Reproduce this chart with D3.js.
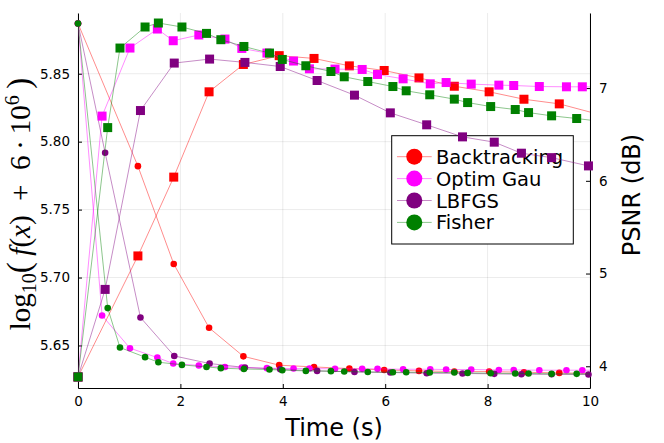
<!DOCTYPE html>
<html>
<head>
<meta charset="utf-8">
<script src="https://cdn.jsdelivr.net/npm/d3@7/dist/d3.min.js"></script>
<style>
body { margin: 0; background: #fff; }
svg { display: block; font-family: "DejaVu Sans", sans-serif; }
</style>
</head>
<body>
<script>
// objective (circles, left axis) and PSNR (squares, right axis) per method

const backtrackingTime = [0, 1.17, 1.87, 2.56, 3.23, 3.93, 4.61, 5.30, 5.98, 6.66, 7.35, 8.03, 8.71, 9.40, 10.08];
const backtrackingObj = [5.887, 5.782, 5.710, 5.663, 5.642, 5.6355, 5.6342, 5.6330, 5.6320, 5.6313, 5.6308, 5.6308, 5.6303, 5.6298, 5.6295];
const backtrackingPsnr = [3.885, 5.19, 6.04, 6.96, 7.255, 7.35, 7.32, 7.24, 7.19, 7.11, 7.02, 6.96, 6.88, 6.83, 6.73];

const optimTime = [0, 0.47, 1.015, 1.55, 1.86, 2.36, 2.87, 3.20, 3.69, 4.21, 4.52, 5.02, 5.55, 5.85, 6.35, 6.88, 7.19, 7.68, 8.22, 8.51, 9.01, 9.54, 9.85, 10.36];
const optimObj = [5.887, 5.6721, 5.6480, 5.6411, 5.6367, 5.6353, 5.6342, 5.6338, 5.6333, 5.6330, 5.6330, 5.6328, 5.6328, 5.6328, 5.6325, 5.6325, 5.6323, 5.6323, 5.6320, 5.6320, 5.6318, 5.6318, 5.6318, 5.6317];
const optimPsnr = [3.885, 6.698, 7.432, 7.637, 7.511, 7.573, 7.529, 7.428, 7.378, 7.292, 7.208, 7.205, 7.201, 7.147, 7.100, 7.046, 7.060, 7.043, 7.032, 7.028, 7.017, 7.014, 7.014, 7.012];

const lbfgsTime = [0, 0.53, 1.22, 1.88, 2.57, 3.26, 3.95, 4.67, 5.40, 6.10, 6.81, 7.51, 8.13, 8.66, 9.25, 9.97, 10.67];
const lbfgsObj = [5.887, 5.7918, 5.6706, 5.6423, 5.6367, 5.6338, 5.6325, 5.6313, 5.6305, 5.6301, 5.6296, 5.6294, 5.6291, 5.6288, 5.6288, 5.6286, 5.6285];
const lbfgsPsnr = [3.885, 4.829, 6.758, 7.270, 7.313, 7.277, 7.233, 7.082, 6.924, 6.733, 6.604, 6.474, 6.417, 6.298, 6.250, 6.161, 6.08];

const fisherTime = [0, 0.58, 0.82, 1.31, 1.57, 2.03, 2.51, 2.79, 3.24, 3.74, 3.99, 4.45, 4.94, 5.20, 5.66, 6.15, 6.41, 6.87, 7.35, 7.61, 8.06, 8.54, 8.80, 9.25, 9.74, 10.22];
const fisherObj = [5.887, 5.6775, 5.6485, 5.6414, 5.6377, 5.6357, 5.6342, 5.6333, 5.6327, 5.6323, 5.6318, 5.6313, 5.6311, 5.6308, 5.6305, 5.6303, 5.6303, 5.6301, 5.6301, 5.6298, 5.6296, 5.6294, 5.6294, 5.6291, 5.6291, 5.6290];
const fisherPsnr = [3.885, 6.574, 7.432, 7.659, 7.702, 7.659, 7.590, 7.522, 7.449, 7.378, 7.309, 7.241, 7.179, 7.122, 7.071, 7.017, 6.971, 6.928, 6.881, 6.844, 6.801, 6.769, 6.736, 6.701, 6.672, 6.64];

const seriesNames = ["Backtracking", "Optim Gau", "LBFGS", "Fisher"];
const seriesColors = ["#ff0000", "#ff00ff", "#800080", "#008000"];

const xTicks = [0, 2, 4, 6, 8, 10];
const objTicks = [5.65, 5.70, 5.75, 5.80, 5.85];
const psnrTicks = [4, 5, 6, 7];

let margin = {top: 13, right: 74, bottom: 55, left: 78};
let width = 664 - margin.left - margin.right;
let height = 443 - margin.top - margin.bottom;

let series = [
	[backtrackingTime, backtrackingObj, backtrackingPsnr],
	[optimTime, optimObj, optimPsnr],
	[lbfgsTime, lbfgsObj, lbfgsPsnr],
	[fisherTime, fisherObj, fisherPsnr]
].map(function(s, i) {
	return {
		name: seriesNames[i],
		color: seriesColors[i],
		values: s[0].map(function(t, j) { return {t: t, obj: s[1][j], psnr: s[2][j]}; })
	};
});

let xScale = d3.scaleLinear().domain([0, 10]).range([0, width]);
let objScale = d3.scaleLinear().domain([5.6187, 5.8947]).range([height, 0]);
let psnrScale = d3.scaleLinear().domain([3.7656, 7.810]).range([height, 0]);

let svg = d3.select("body").append("svg")
	.attr("width", 664)
	.attr("height", 443);

svg.append("defs").append("clipPath")
		.attr("id", "plotclip")
	.append("rect")
		.attr("width", width)
		.attr("height", height);

let chart = svg.append("g")
	.attr("transform", "translate(" + margin.left + "," + margin.top + ")");

// grid
chart.append("g")
	.selectAll("line")
	.data(xTicks)
	.enter().append("line")
		.attr("x1", function(d) { return xScale(d); })
		.attr("x2", function(d) { return xScale(d); })
		.attr("y1", 0)
		.attr("y2", height)
		.attr("stroke", "#000")
		.attr("stroke-opacity", 0.1)
		.attr("stroke-width", 0.8);

chart.append("g")
	.selectAll("line")
	.data(objTicks)
	.enter().append("line")
		.attr("x1", 0)
		.attr("x2", width)
		.attr("y1", function(d) { return objScale(d); })
		.attr("y2", function(d) { return objScale(d); })
		.attr("stroke", "#000")
		.attr("stroke-opacity", 0.1)
		.attr("stroke-width", 0.8);

// axes
function styleAxis(g) {
	g.attr("font-family", "DejaVu Sans, sans-serif").attr("font-size", 13.5);
	g.selectAll("text").attr("fill", "#000");
	g.selectAll("line, path").attr("stroke", "#000");
}

chart.append("g")
	.call(d3.axisLeft(objScale)
		.tickValues(objTicks)
		.tickFormat(d3.format(".2f"))
		.tickSizeInner(-4)
		.tickSizeOuter(0)
		.tickPadding(8))
	.call(styleAxis);

chart.append("g")
	.attr("transform", "translate(0," + height + ")")
	.call(d3.axisBottom(xScale)
		.tickValues(xTicks)
		.tickFormat(d3.format("d"))
		.tickSizeInner(-4)
		.tickSizeOuter(0)
		.tickPadding(8))
	.call(styleAxis);

chart.append("g")
	.attr("transform", "translate(" + width + ",0)")
	.call(d3.axisRight(psnrScale)
		.tickValues(psnrTicks)
		.tickFormat(d3.format("d"))
		.tickSizeInner(-4)
		.tickSizeOuter(0)
		.tickPadding(9))
	.call(styleAxis);

let objLine = d3.line()
	.x(function(d) { return xScale(d.t); })
	.y(function(d) { return objScale(d.obj); });

let psnrLine = d3.line()
	.x(function(d) { return xScale(d.t); })
	.y(function(d) { return psnrScale(d.psnr); });

function inRange(d) { return d.t <= 10; }

// objective series (left axis)
series.forEach(function(s) {
	chart.append("path")
		.datum(s.values)
		.attr("clip-path", "url(#plotclip)")
		.attr("fill", "none")
		.attr("stroke", s.color)
		.attr("stroke-opacity", 0.45)
		.attr("stroke-width", 1)
		.attr("d", objLine);
	chart.append("g")
		.selectAll("circle")
		.data(s.values.filter(inRange))
		.enter().append("circle")
			.attr("r", 3.3)
			.attr("cx", function(d) { return xScale(d.t); })
			.attr("cy", function(d) { return objScale(d.obj); })
			.attr("fill", s.color);
});

// legend
let legend = chart.append("g")
	.attr("transform", "translate(313.7,122.7)");

legend.append("rect")
	.attr("width", 181.6)
	.attr("height", 108.3)
	.attr("fill", "#fff")
	.attr("stroke", "#000")
	.attr("stroke-width", 1);

let entries = legend.selectAll("g.entry")
	.data(series)
	.enter().append("g")
		.attr("class", "entry")
		.attr("transform", function(d, i) { return "translate(0," + (21 + i * 21.9) + ")"; });

entries.append("line")
	.attr("x1", 5.3)
	.attr("x2", 40)
	.attr("stroke", function(d) { return d.color; })
	.attr("stroke-opacity", 0.45)
	.attr("stroke-width", 1);

entries.append("circle")
	.attr("cx", 22.6)
	.attr("r", 8)
	.attr("fill", function(d) { return d.color; });

entries.append("text")
	.attr("x", 44.3)
	.attr("dy", "0.36em")
	.attr("font-size", 19.5)
	.attr("fill", "#000")
	.text(function(d) { return d.name; });

// PSNR series (right axis)
series.forEach(function(s) {
	chart.append("path")
		.datum(s.values)
		.attr("clip-path", "url(#plotclip)")
		.attr("fill", "none")
		.attr("stroke", s.color)
		.attr("stroke-opacity", 0.45)
		.attr("stroke-width", 1)
		.attr("d", psnrLine);
	chart.append("g")
		.selectAll("rect")
		.data(s.values.filter(inRange))
		.enter().append("rect")
			.attr("width", 9)
			.attr("height", 9)
			.attr("x", function(d) { return xScale(d.t) - 4.5; })
			.attr("y", function(d) { return psnrScale(d.psnr) - 4.5; })
			.attr("fill", s.color);
});

// axis titles
chart.append("text")
	.attr("x", width / 2)
	.attr("y", 423)
	.attr("text-anchor", "middle")
	.attr("font-size", 24)
	.attr("fill", "#000")
	.text("Time (s)");

svg.append("text")
	.attr("transform", "translate(631,195) rotate(-90)")
	.attr("text-anchor", "middle")
	.attr("dy", "0.36em")
	.attr("font-size", 24)
	.attr("fill", "#000")
	.text("PSNR (dB)");

let yLabel = svg.append("text")
	.attr("transform", "translate(30,204) rotate(-90)")
	.attr("text-anchor", "middle")
	.attr("font-family", "Liberation Serif, serif")
	.attr("font-size", 29)
	.attr("fill", "#000");

yLabel.append("tspan").text("log");
yLabel.append("tspan").attr("dy", 6).attr("font-size", 20).text("10");
yLabel.append("tspan").attr("dy", -6).attr("font-size", 33).text("(\u2009");
yLabel.append("tspan").attr("font-style", "italic").text("f");
yLabel.append("tspan").text("(");
yLabel.append("tspan").attr("font-style", "italic").text("x");
yLabel.append("tspan").text(")\u2002+\u20026\u2009\u00b7\u200910");
yLabel.append("tspan").attr("dy", -11).attr("font-size", 20).text("6");
yLabel.append("tspan").attr("dy", 11).attr("font-size", 33).text("\u2009)");
</script>
</body>
</html>
